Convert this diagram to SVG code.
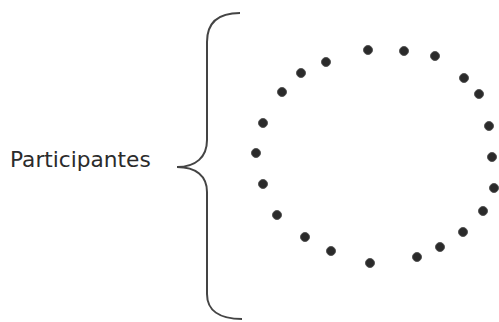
<svg xmlns="http://www.w3.org/2000/svg" width="499" height="322" viewBox="0 0 499 322">
<style>
.lbl{font-family:"DejaVu Sans","Verdana",sans-serif;font-size:21.7px;fill:#2b2b2b}
.brace{fill:none;stroke:#444;stroke-width:2}
.dot{fill:#2a2a2a;stroke:#555;stroke-width:1}
</style>
<rect width="499" height="322" fill="#fff"/>
<g id="label"><text class="lbl" x="10" y="167">Participantes</text></g>
<g id="connectors">
<path class="brace" d="M240,13 C216,13 207,24 207,42 L207,140 C207,157 196,167 177,167 C196,167 207,176 207,192 L207,294 C207,310 219,319 242,319"/>
</g>
<g id="participants">
<circle class="dot" cx="368" cy="50" r="4.5"/>
<circle class="dot" cx="404" cy="51" r="4.5"/>
<circle class="dot" cx="435" cy="56" r="4.5"/>
<circle class="dot" cx="464" cy="78" r="4.5"/>
<circle class="dot" cx="479" cy="94" r="4.5"/>
<circle class="dot" cx="489" cy="126" r="4.5"/>
<circle class="dot" cx="492" cy="157" r="4.5"/>
<circle class="dot" cx="494" cy="188" r="4.5"/>
<circle class="dot" cx="483" cy="211" r="4.5"/>
<circle class="dot" cx="463" cy="232" r="4.5"/>
<circle class="dot" cx="440" cy="247" r="4.5"/>
<circle class="dot" cx="417" cy="257" r="4.5"/>
<circle class="dot" cx="370" cy="263" r="4.5"/>
<circle class="dot" cx="331" cy="251" r="4.5"/>
<circle class="dot" cx="305" cy="237" r="4.5"/>
<circle class="dot" cx="277" cy="215" r="4.5"/>
<circle class="dot" cx="263" cy="184" r="4.5"/>
<circle class="dot" cx="256" cy="153" r="4.5"/>
<circle class="dot" cx="263" cy="123" r="4.5"/>
<circle class="dot" cx="282" cy="92" r="4.5"/>
<circle class="dot" cx="301" cy="73" r="4.5"/>
<circle class="dot" cx="326" cy="62" r="4.5"/>
</g>
</svg>
